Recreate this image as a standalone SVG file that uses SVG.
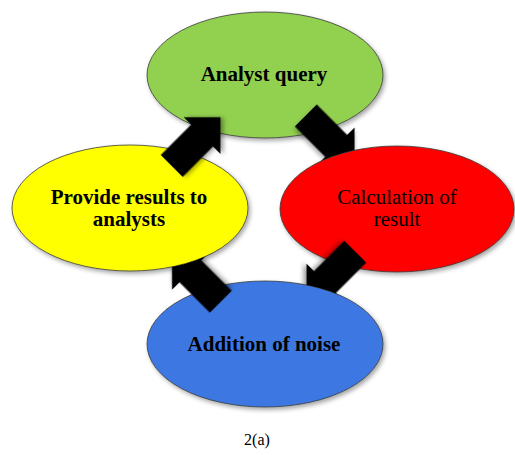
<svg xmlns="http://www.w3.org/2000/svg" width="515" height="455" viewBox="0 0 515 455">
<style>
.node{stroke:#3a3a3a;stroke-width:0.8;filter:url(#sh)}
.lbl{font-family:"Liberation Serif","Times New Roman",serif;font-size:21px;fill:#000;text-anchor:middle}
.b{font-weight:bold}
.arr{fill:#000;filter:url(#sh)}
</style>
<defs>
<filter id="sh" x="-20%" y="-20%" width="140%" height="140%">
<feDropShadow dx="2" dy="2.5" stdDeviation="2" flood-color="#000" flood-opacity="0.35"/>
</filter>
<polygon id="arrowShape" points="0,-15.5 43,-15.5 43,-26 69,0 43,26 43,15.5 0,15.5"/>
<clipPath id="noRed"><path clip-rule="evenodd" d="M0,0H515V455H0Z M280,209a117,63 0 1 0 234,0a117,63 0 1 0 -234,0Z"/></clipPath>
<clipPath id="noBlue"><path clip-rule="evenodd" d="M0,0H515V455H0Z M147,344a118,63 0 1 0 236,0a118,63 0 1 0 -236,0Z"/></clipPath>
<clipPath id="noYellow"><path clip-rule="evenodd" d="M0,0H515V455H0Z M12,208a118,63 0 1 0 236,0a118,63 0 1 0 -236,0Z"/></clipPath>
</defs>
<rect width="515" height="455" fill="#fff"/>
<g id="node-analyst-query">
<ellipse class="node" cx="265" cy="75" rx="118" ry="63" fill="#92D050"/>
<text class="lbl b" x="264" y="81">Analyst query</text>
</g>
<g id="node-calculation">
<ellipse class="node" cx="397" cy="209" rx="117" ry="63" fill="#FF0000"/>
<text class="lbl" x="397" y="204">Calculation of</text>
<text class="lbl" x="397" y="226">result</text>
</g>
<g id="node-addition-noise">
<ellipse class="node" cx="265" cy="344" rx="118" ry="63" fill="#3C78E2"/>
<text class="lbl b" x="264" y="351">Addition of noise</text>
</g>
<g id="node-provide-results">
<ellipse class="node" cx="130" cy="208" rx="118" ry="63" fill="#FFFF00"/>
<text class="lbl b" x="129" y="204">Provide results to</text>
<text class="lbl b" x="129" y="226">analysts</text>
</g>
<g id="connectors">
<g><use href="#arrowShape" class="arr" transform="translate(171.7,166) rotate(-45)"/></g>
<g clip-path="url(#noRed)"><use href="#arrowShape" class="arr" transform="translate(305.8,115.5) rotate(45)"/></g>
<g clip-path="url(#noBlue)"><use href="#arrowShape" class="arr" transform="translate(355.3,251.7) rotate(135)"/></g>
<g clip-path="url(#noYellow)"><use href="#arrowShape" class="arr" transform="translate(220.8,301.7) rotate(-135)"/></g>
</g>
<text x="257" y="445" font-family="Liberation Serif, Times New Roman, serif" font-size="16" text-anchor="middle">2(a)</text>
</svg>
